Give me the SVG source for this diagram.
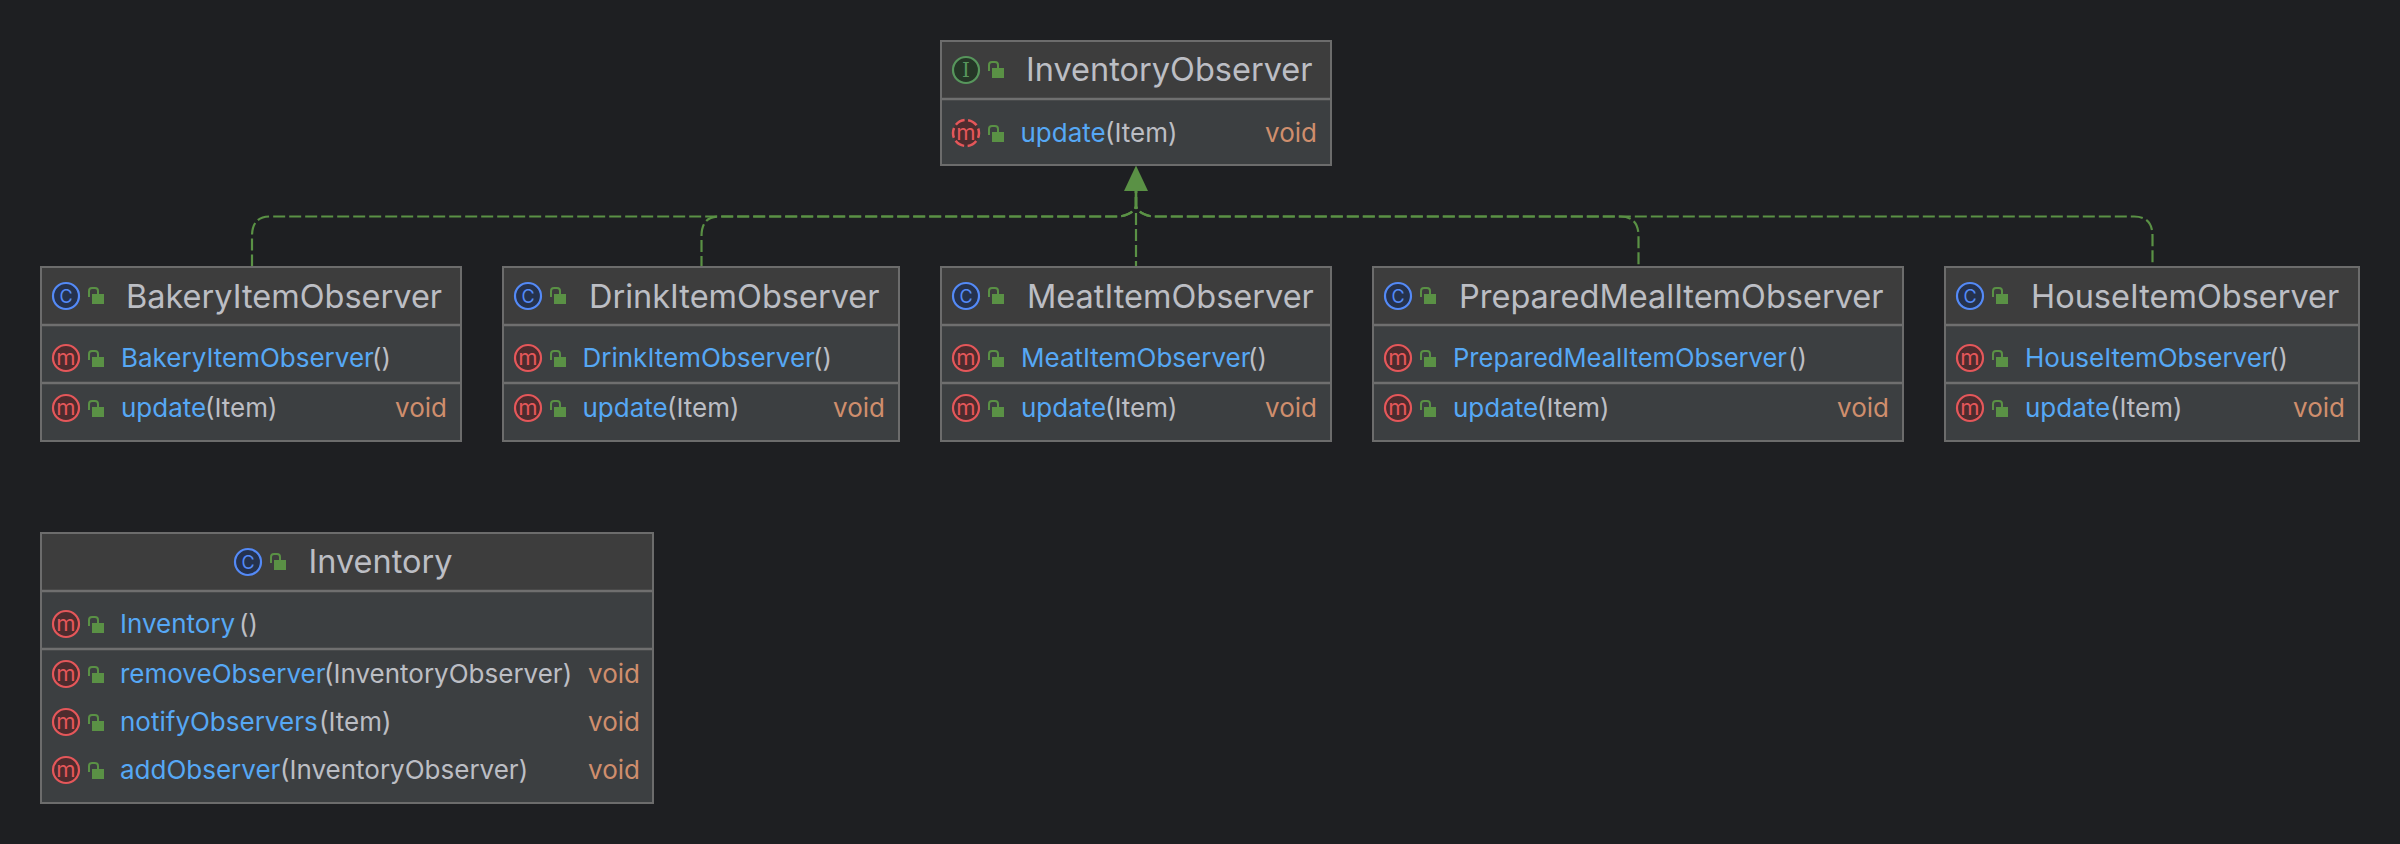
<svg xmlns="http://www.w3.org/2000/svg" width="2400" height="844" viewBox="0 0 2400 844">
<style>
text{font-family:Inter,"Noto Sans",sans-serif}
.box{fill:#3c3f41;stroke:#6c6c6c;stroke-width:2}
.hd{fill:#3d3d3d}
.dv{stroke:#6f6f6f;stroke-width:2.4}
.t{font-size:32.5px;fill:#bcbec4}
.n{font-size:26px;fill:#56a8f5}
.p{font-size:26px;fill:#bcbec4}
.v{font-size:26px;fill:#cf8e6d;text-anchor:end}
.ln{fill:none;stroke:#5a9145;stroke-width:2.2;stroke-dasharray:12 4;stroke-dashoffset:10}
.ic{text-anchor:middle}
.mc{fill:#4d2c2e;stroke:#e5575a;stroke-width:2.2}
.mt{fill:#e5575a;font-size:22px}
.cc{fill:#25324d;stroke:#548af7;stroke-width:2.2}
.ct{fill:#548af7;font-size:18px}
</style>
<defs>
<g id="lock"><path d="M-22 1V-5Q-22 -8 -19 -8H-16Q-13 -8 -13 -5V-1" fill="none" stroke="#5a9145" stroke-width="2"/><rect x="-19" y="-2" width="12" height="10" fill="#5a9145"/></g>
</defs>
<rect width="2400" height="844" fill="#1e1f22"/>
<g id="connectors">
<path class="ln" d="M1136 191V206Q1134 214 1120 216.500H270Q252 216.500 252 236V266"/>
<path class="ln" d="M1136 191V206Q1134 214 1120 216.500H719Q701.500 216.500 701.500 236V266"/>
<path class="ln" d="M1136 191V266"/>
<path class="ln" d="M1136 191V206Q1138 214 1152 216.500H1620Q1638.500 216.500 1638.500 236V266"/>
<path class="ln" d="M1136 191V206Q1138 214 1152 216.500H2134Q2152.500 216.500 2152.500 236V266"/>
<path d="M1136 191V207" stroke="#5a9145" stroke-width="2.600"/>
<path d="M1136 165.500L1148 191H1124Z" fill="#5a9145"/>
</g>
<g id="InventoryObserver">
<rect class="box" x="941" y="41" width="390" height="124"/><rect class="hd" x="942" y="42" width="388" height="57"/><line class="dv" x1="942" y1="99" x2="1330" y2="99"/>
<circle cx="966" cy="70" r="13" fill="#253627" stroke="#57965c" stroke-width="2.200"/><text class="ic" x="966" y="77" font-size="20" style="font-family:'DejaVu Serif',serif" fill="#57965c">I</text><use href="#lock" x="1011" y="70"/>
<text class="t" x="1026" y="81">InventoryObserver</text>
<circle cx="966" cy="133" r="13" fill="#4d2c2e" stroke="#e5575a" stroke-width="2.500" stroke-dasharray="10 3.600" stroke-dashoffset="5"/><text class="ic mt" x="966" y="140">m</text><use href="#lock" x="1011" y="134"/>
<text class="n" x="1020.500" y="142">update</text><text class="p" x="1105" y="142">(Item)</text><text class="v" x="1317" y="142">void</text>
</g>
<g id="BakeryItemObserver">
<rect class="box" x="41" y="267" width="420" height="174"/><rect class="hd" x="42" y="268" width="418" height="57"/><line class="dv" x1="42" y1="325" x2="460" y2="325"/><line class="dv" x1="42" y1="383" x2="460" y2="383"/>
<circle class="cc" cx="66" cy="296" r="13"/><text class="ic ct" x="66" y="302.500">C</text><use href="#lock" x="111" y="296"/>
<text class="t" x="126" y="308">BakeryItemObserver</text>
<circle class="mc" cx="66" cy="358" r="13"/><text class="ic mt" x="66" y="365">m</text><use href="#lock" x="111" y="359"/>
<text class="n" x="121" y="367">BakeryItemObserver</text><text class="p" x="372" y="367">()</text>
<circle class="mc" cx="66" cy="408" r="13"/><text class="ic mt" x="66" y="415">m</text><use href="#lock" x="111" y="409"/>
<text class="n" x="121" y="417">update</text><text class="p" x="205" y="417">(Item)</text><text class="v" x="447" y="417">void</text>
</g>
<g id="DrinkItemObserver">
<rect class="box" x="503" y="267" width="396" height="174"/><rect class="hd" x="504" y="268" width="394" height="57"/><line class="dv" x1="504" y1="325" x2="898" y2="325"/><line class="dv" x1="504" y1="383" x2="898" y2="383"/>
<circle class="cc" cx="528" cy="296" r="13"/><text class="ic ct" x="528" y="302.500">C</text><use href="#lock" x="573" y="296"/>
<text class="t" x="589" y="308">DrinkItemObserver</text>
<circle class="mc" cx="528" cy="358" r="13"/><text class="ic mt" x="528" y="365">m</text><use href="#lock" x="573" y="359"/>
<text class="n" x="582.500" y="367">DrinkItemObserver</text><text class="p" x="813" y="367">()</text>
<circle class="mc" cx="528" cy="408" r="13"/><text class="ic mt" x="528" y="415">m</text><use href="#lock" x="573" y="409"/>
<text class="n" x="582.500" y="417">update</text><text class="p" x="667" y="417">(Item)</text><text class="v" x="885" y="417">void</text>
</g>
<g id="MeatItemObserver">
<rect class="box" x="941" y="267" width="390" height="174"/><rect class="hd" x="942" y="268" width="388" height="57"/><line class="dv" x1="942" y1="325" x2="1330" y2="325"/><line class="dv" x1="942" y1="383" x2="1330" y2="383"/>
<circle class="cc" cx="966" cy="296" r="13"/><text class="ic ct" x="966" y="302.500">C</text><use href="#lock" x="1011" y="296"/>
<text class="t" x="1027" y="308">MeatItemObserver</text>
<circle class="mc" cx="966" cy="358" r="13"/><text class="ic mt" x="966" y="365">m</text><use href="#lock" x="1011" y="359"/>
<text class="n" x="1021" y="367">MeatItemObserver</text><text class="p" x="1248" y="367">()</text>
<circle class="mc" cx="966" cy="408" r="13"/><text class="ic mt" x="966" y="415">m</text><use href="#lock" x="1011" y="409"/>
<text class="n" x="1021" y="417">update</text><text class="p" x="1105" y="417">(Item)</text><text class="v" x="1317" y="417">void</text>
</g>
<g id="PreparedMealItemObserver">
<rect class="box" x="1373" y="267" width="530" height="174"/><rect class="hd" x="1374" y="268" width="528" height="57"/><line class="dv" x1="1374" y1="325" x2="1902" y2="325"/><line class="dv" x1="1374" y1="383" x2="1902" y2="383"/>
<circle class="cc" cx="1398" cy="296" r="13"/><text class="ic ct" x="1398" y="302.500">C</text><use href="#lock" x="1443" y="296"/>
<text class="t" x="1459" y="308">PreparedMealItemObserver</text>
<circle class="mc" cx="1398" cy="358" r="13"/><text class="ic mt" x="1398" y="365">m</text><use href="#lock" x="1443" y="359"/>
<text class="n" x="1453" y="367" textLength="334" lengthAdjust="spacingAndGlyphs">PreparedMealItemObserver</text><text class="p" x="1788" y="367">()</text>
<circle class="mc" cx="1398" cy="408" r="13"/><text class="ic mt" x="1398" y="415">m</text><use href="#lock" x="1443" y="409"/>
<text class="n" x="1453" y="417">update</text><text class="p" x="1537" y="417">(Item)</text><text class="v" x="1889" y="417">void</text>
</g>
<g id="HouseItemObserver">
<rect class="box" x="1945" y="267" width="414" height="174"/><rect class="hd" x="1946" y="268" width="412" height="57"/><line class="dv" x1="1946" y1="325" x2="2358" y2="325"/><line class="dv" x1="1946" y1="383" x2="2358" y2="383"/>
<circle class="cc" cx="1970" cy="296" r="13"/><text class="ic ct" x="1970" y="302.500">C</text><use href="#lock" x="2015" y="296"/>
<text class="t" x="2031" y="308">HouseItemObserver</text>
<circle class="mc" cx="1970" cy="358" r="13"/><text class="ic mt" x="1970" y="365">m</text><use href="#lock" x="2015" y="359"/>
<text class="n" x="2025" y="367">HouseItemObserver</text><text class="p" x="2269" y="367">()</text>
<circle class="mc" cx="1970" cy="408" r="13"/><text class="ic mt" x="1970" y="415">m</text><use href="#lock" x="2015" y="409"/>
<text class="n" x="2025" y="417">update</text><text class="p" x="2110" y="417">(Item)</text><text class="v" x="2345" y="417">void</text>
</g>
<g id="Inventory">
<rect class="box" x="41" y="533" width="612" height="270"/><rect class="hd" x="42" y="534" width="610" height="57"/><line class="dv" x1="42" y1="591" x2="652" y2="591"/><line class="dv" x1="42" y1="649" x2="652" y2="649"/>
<circle class="cc" cx="248" cy="562" r="13"/><text class="ic ct" x="248" y="568.500">C</text><use href="#lock" x="293" y="562"/>
<text class="t" x="308.500" y="573">Inventory</text>
<circle class="mc" cx="66" cy="624" r="13"/><text class="ic mt" x="66" y="631">m</text><use href="#lock" x="111" y="625"/>
<text class="n" x="120" y="633">Inventory</text><text class="p" x="239" y="633">()</text>
<circle class="mc" cx="66" cy="674" r="13"/><text class="ic mt" x="66" y="681">m</text><use href="#lock" x="111" y="675"/>
<text class="n" x="120" y="683">removeObserver</text><text class="p" x="324" y="683">(InventoryObserver)</text><text class="v" x="640" y="683">void</text>
<circle class="mc" cx="66" cy="722" r="13"/><text class="ic mt" x="66" y="729">m</text><use href="#lock" x="111" y="723"/>
<text class="n" x="120" y="731">notifyObservers</text><text class="p" x="319" y="731">(Item)</text><text class="v" x="640" y="731">void</text>
<circle class="mc" cx="66" cy="770" r="13"/><text class="ic mt" x="66" y="777">m</text><use href="#lock" x="111" y="771"/>
<text class="n" x="120" y="779">addObserver</text><text class="p" x="280" y="779">(InventoryObserver)</text><text class="v" x="640" y="779">void</text>
</g>
</svg>
